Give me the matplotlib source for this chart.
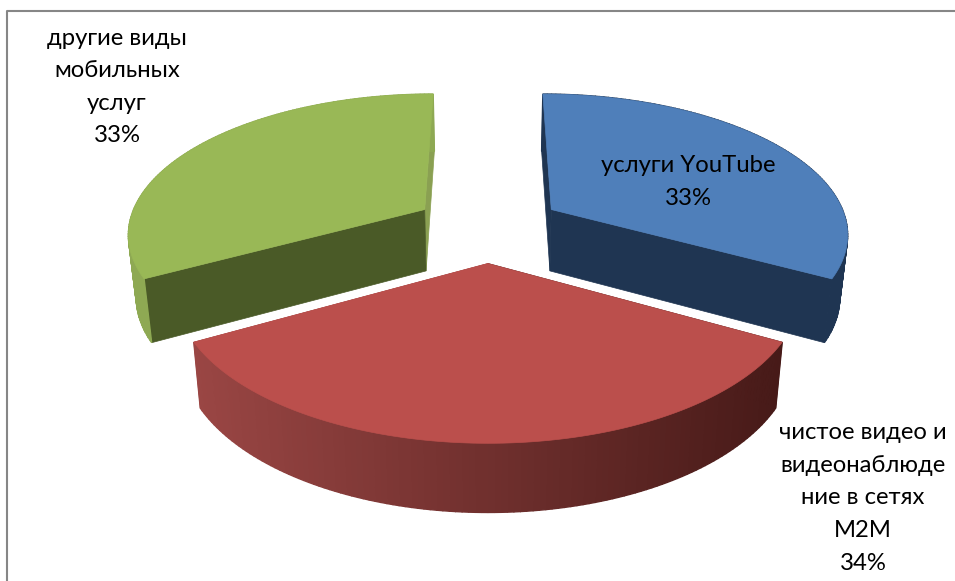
import numpy as np
import matplotlib
matplotlib.use("Agg")
import matplotlib.pyplot as plt
from matplotlib.colors import to_rgb

# Доли услуг, %
labels = ["услуги YouTube\n33%",
          "чистое видео и\nвидеонаблюде\nние в сетях\nM2M\n34%",
          "другие виды\nмобильных\nуслуг\n33%"]
values = [33, 34, 33]

top_colors = ["#4F7FBA", "#BB4F4C", "#99B856"]
wall_left = ["#1F3552", "#9A4644", "#8EA953"]
wall_right = ["#1F3552", "#471A18", "#8EA953"]
face_start = ["#1F3552", "#471A18", "#4A5A27"]
face_end = ["#1F3552", "#9A4644", "#8AA052"]

# Параметры перспективы
R = 297.0  # радиус
EXPL = 75.0  # смещение секторов от центра
D = 1890.0  # расстояние до камеры
K = 0.467  # сжатие по вертикали
CX, CY = 488.0, 227.0  # центр диаграммы
H = 62.0  # высота секторов
SHRINK = 0.978  # сужение нижней грани


def project(x, z, bottom=False):
    s = 1.0 / (1.0 - z / D)
    sx = CX + x * s
    sy = CY + K * z * s
    if bottom:
        sx = CX + (sx - CX) * SHRINK
        sy = sy + H * np.sqrt(s)
    return sx, sy


def draw_sector(ax, start, end, i):
    # угол отсчитывается от дальней точки по часовой стрелке
    mid = (start + end) / 2
    t = np.linspace(start, end, 121)
    ox = EXPL * np.sin(mid)
    oz = -EXPL * np.cos(mid)
    x = ox + R * np.sin(t)
    z = oz - R * np.cos(t)

    tx, ty = project(x, z)
    bx, by = project(x, z, bottom=True)
    px, py = project(ox, oz)
    qx, qy = project(ox, oz, bottom=True)

    # радиальные грани
    ax.fill([px, tx[-1], bx[-1], qx], [py, ty[-1], by[-1], qy],
            color=face_end[i], lw=0.5, zorder=2)
    ax.fill([px, tx[0], bx[0], qx], [py, ty[0], by[0], qy],
            color=face_start[i], lw=0.5, zorder=3)

    # внешняя стенка полосами, цвет меняется слева направо
    c1 = np.array(to_rgb(wall_left[i]))
    c2 = np.array(to_rgb(wall_right[i]))
    xmin, xmax = bx.min(), bx.max()
    for j in range(len(t) - 1):
        f = (bx[j] - xmin) / (xmax - xmin)
        col = c1 + (c2 - c1) * f
        ax.fill([tx[j], tx[j + 1], bx[j + 1], bx[j]],
                [ty[j], ty[j + 1], by[j + 1], by[j]],
                color=col, lw=1.0, zorder=4)

    # верхняя грань
    ax.fill(np.r_[px, tx], np.r_[py, ty], color=top_colors[i], lw=0.5, zorder=5)


fig = plt.figure(figsize=(9.55, 5.81), dpi=100)
ax = fig.add_axes([0, 0, 1, 1])
ax.set_xlim(0, 955)
ax.set_ylim(581, 0)
ax.axis("off")

# рамка области диаграммы
ax.plot([7, 7, 955], [581, 10.5, 10.5], color="#868686", lw=1.5, zorder=1)

total = sum(values)
angle = 0.0
for i, v in enumerate(values):
    next_angle = angle + 2 * np.pi * v / total
    draw_sector(ax, angle, next_angle, i)
    angle = next_angle

font = ["Lato", "Noto Sans"]
ax.text(688, 182, labels[0], ha="center", va="center", family=font, fontsize=17.2,
        linespacing=1.68, color="black", zorder=6)
ax.text(863, 498, labels[1], ha="center", va="center", family=font, fontsize=17.2,
        linespacing=1.68, color="black", zorder=6)
ax.text(117, 87, labels[2], ha="center", va="center", family=font, fontsize=17.2,
        linespacing=1.68, color="black", zorder=6)

fig.savefig("out.png", dpi=100)
